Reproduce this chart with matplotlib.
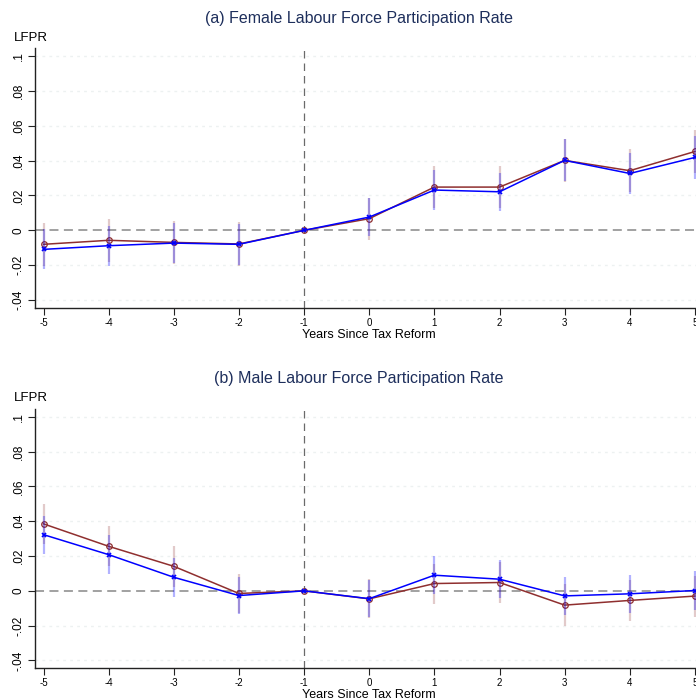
import matplotlib.pyplot as plt
import numpy as np

plt.rcParams['font.family'] = ['Liberation Sans', 'DejaVu Sans']

# --- data ---
years = [-5, -4, -3, -2, -1, 0, 1, 2, 3, 4, 5]

# (a) female LFPR: point estimates and 95% CI half-widths
fem_red = [-0.0080, -0.0057, -0.0069, -0.0078, 0.0, 0.0067, 0.0248, 0.0248, 0.0401, 0.0342, 0.0452]
fem_red_ci = [0.0124, 0.0122, 0.0122, 0.0124, 0.0, 0.0120, 0.0122, 0.0122, 0.0124, 0.0124, 0.0126]
fem_blue = [-0.0109, -0.0088, -0.0073, -0.0080, 0.0, 0.0076, 0.0231, 0.0221, 0.0401, 0.0326, 0.0418]
fem_blue_ci = [0.0114, 0.0114, 0.0116, 0.0118, 0.0, 0.0110, 0.0113, 0.0110, 0.0120, 0.0120, 0.0122]

# (b) male LFPR
male_red = [0.0385, 0.0256, 0.0141, -0.0015, 0.0, -0.0046, 0.0042, 0.0048, -0.0082, -0.0055, -0.0030]
male_red_ci = [0.0115, 0.0114, 0.0117, 0.0114, 0.0, 0.0112, 0.0115, 0.0115, 0.0120, 0.0117, 0.0118]
male_blue = [0.0323, 0.0208, 0.0078, -0.0027, 0.0, -0.0045, 0.0090, 0.0067, -0.0029, -0.0017, 0.0002]
male_blue_ci = [0.0110, 0.0111, 0.0111, 0.0107, 0.0, 0.0107, 0.0108, 0.0108, 0.0109, 0.0109, 0.0110]

yticks = [-0.04, -0.02, 0, 0.02, 0.04, 0.06, 0.08, 0.1]
ytick_labels = ['-.04', '-.02', '0', '.02', '.04', '.06', '.08', '.1']

RED = '#8f2f2f'
BLUE = '#0000ff'
TITLE_COLOR = '#1e2f5c'


def draw_panel(ax, red, red_ci, blue, blue_ci):
    x = np.array(years)
    red = np.array(red)
    blue = np.array(blue)
    red_ci = np.array(red_ci)
    blue_ci = np.array(blue_ci)

    # faint dotted grid
    for yv in yticks:
        if yv != 0:
            ax.axhline(yv, color='#edf1f1', linestyle=(0, (2, 3)), linewidth=1.0, zorder=0)
    ax.axhline(0, color='#9a9a9a', linestyle=(0, (5, 3)), linewidth=1.3, zorder=1)
    ax.axvline(-1, color='#6a6a6a', linestyle=(0, (6, 4)), linewidth=0.9, zorder=1)

    has_ci = red_ci > 0
    ax.vlines(x[has_ci], (red - red_ci)[has_ci], (red + red_ci)[has_ci],
              color=RED, alpha=0.25, linewidth=1.6, zorder=2)
    ax.plot(x, red, color=RED, linewidth=1.1, marker='o', markersize=4,
            markerfacecolor='none', markeredgecolor=RED, markeredgewidth=0.9, zorder=3)
    ax.vlines(x[has_ci], (blue - blue_ci)[has_ci], (blue + blue_ci)[has_ci],
              color=BLUE, alpha=0.3, linewidth=1.6, zorder=4)
    ax.plot(x, blue, color=BLUE, linewidth=1.1, marker='x', markersize=3.5,
            markeredgewidth=1.2, zorder=5)

    ax.set_xlim(-5.123, 5.123)
    ax.set_ylim(-0.0445, 0.1045)
    ax.set_xticks(years)
    ax.set_xticklabels([str(v) for v in years], fontsize=7)
    ax.set_yticks(yticks)
    ax.set_yticklabels(ytick_labels, fontsize=8.5, rotation=90, va='center')
    ax.tick_params(axis='both', length=5, width=0.8, color='#222222', pad=2)
    ax.tick_params(axis='y', pad=3)
    for side in ['top', 'right']:
        ax.spines[side].set_visible(False)
    for side in ['left', 'bottom']:
        ax.spines[side].set_linewidth(1.0)
        ax.spines[side].set_color('#222222')
    ax.set_xlabel('Years Since Tax Reform', fontsize=9, labelpad=1)


fig = plt.figure(figsize=(6.96, 7.0), dpi=100)
ax_a = fig.add_axes([0.051, 0.56, 0.959, 0.3714])
ax_b = fig.add_axes([0.051, 0.0453, 0.959, 0.3704])

draw_panel(ax_a, fem_red, fem_red_ci, fem_blue, fem_blue_ci)
draw_panel(ax_b, male_red, male_red_ci, male_blue, male_blue_ci)

fig.text(359 / 696, 1 - 18 / 700, '(a) Female Labour Force Participation Rate',
         ha='center', va='center', fontsize=11.5, color=TITLE_COLOR)
fig.text(359 / 696, 1 - 378 / 700, '(b) Male Labour Force Participation Rate',
         ha='center', va='center', fontsize=11.5, color=TITLE_COLOR)
fig.text(14 / 696, 1 - 38 / 700, 'LFPR', ha='left', va='center', fontsize=9.5)
fig.text(14 / 696, 1 - 398 / 700, 'LFPR', ha='left', va='center', fontsize=9.5)

fig.savefig('out.png', dpi=100)
